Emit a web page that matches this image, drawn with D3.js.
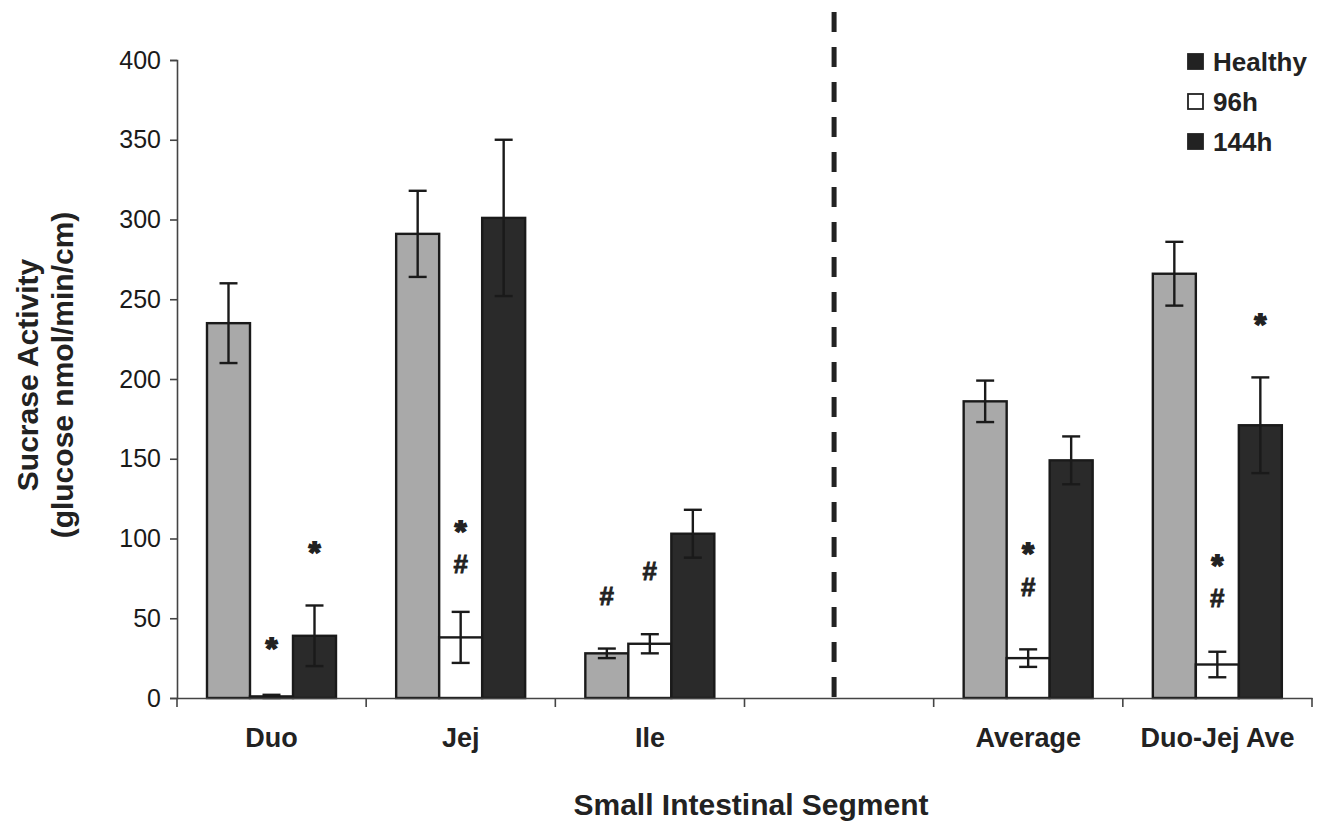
<!DOCTYPE html>
<html>
<head>
<meta charset="utf-8">
<script src="https://cdn.jsdelivr.net/npm/d3@7"></script>
<style>
  body { margin: 0; background: #fff; }
  svg text { font-family: "Liberation Sans", Arial, sans-serif; fill: #222; }
</style>
</head>
<body>
<svg id="chart" width="1319" height="825"></svg>
<script>
// categories along the x axis (blank slot holds the dashed divider)
var categories = ["Duo", "Jej", "Ile", "", "Average", "Duo-Jej Ave"];
var seriesNames = ["Healthy", "96h", "144h"];

// mean sucrase activity per category
var healthy = [235, 291, 28, null, 186, 266];
var h96     = [1, 38, 34, null, 25, 21];
var h144    = [39, 301, 103, null, 149, 171];

// error (SEM) per category
var healthyErr = [25, 27, 3, null, 13, 20];
var h96Err     = [1, 16, 6, null, 5.5, 8];
var h144Err    = [19, 49, 15, null, 15, 30];

var yTicks = [0, 50, 100, 150, 200, 250, 300, 350, 400];

// significance marks: category, series, symbol, value where it sits
var marks = [
  {cat: "Duo", s: "96h", sym: "*", v: 37},
  {cat: "Duo", s: "144h", sym: "*", v: 97},
  {cat: "Jej", s: "96h", sym: "*", v: 110},
  {cat: "Jej", s: "96h", sym: "#", v: 84},
  {cat: "Ile", s: "Healthy", sym: "#", v: 64},
  {cat: "Ile", s: "96h", sym: "#", v: 80},
  {cat: "Average", s: "96h", sym: "*", v: 96},
  {cat: "Average", s: "96h", sym: "#", v: 70},
  {cat: "Duo-Jej Ave", s: "96h", sym: "*", v: 89},
  {cat: "Duo-Jej Ave", s: "96h", sym: "#", v: 63},
  {cat: "Duo-Jej Ave", s: "144h", sym: "*", v: 240}
];

var fills = {"Healthy": "#a9a9a9", "96h": "#ffffff", "144h": "#2a2a2a"};
var legendFills = {"Healthy": "#222", "96h": "#fff", "144h": "#222"};

var svg = d3.select("#chart");
var xLeft = 177, xRight = 1312, yTop = 60, yBottom = 698;

var xScale = d3.scaleBand().domain(categories).range([xLeft, xRight]).padding(0);
var xInner = d3.scaleBand().domain(seriesNames).range([30, 159]).padding(0);
var yScale = d3.scaleLinear().domain([0, 400]).range([yBottom, yTop]);

// build rows from the arrays
var rows = [];
var vals = {"Healthy": healthy, "96h": h96, "144h": h144};
var errs = {"Healthy": healthyErr, "96h": h96Err, "144h": h144Err};
categories.forEach(function(c, i) {
  seriesNames.forEach(function(s) {
    if (vals[s][i] != null) rows.push({cat: c, s: s, v: vals[s][i], e: errs[s][i]});
  });
});

// dashed divider in the blank category
var divX = xScale("") + xScale.bandwidth() / 2 - 5;
svg.append("line")
  .attr("x1", divX).attr("x2", divX)
  .attr("y1", 12).attr("y2", yBottom)
  .attr("stroke", "#222").attr("stroke-width", 5)
  .attr("stroke-dasharray", "20,15");

// bars
svg.append("g").selectAll("rect")
  .data(rows).enter()
  .append("rect")
  .attr("x", function(d) { return xScale(d.cat) + xInner(d.s); })
  .attr("y", function(d) { return yScale(d.v); })
  .attr("width", xInner.bandwidth())
  .attr("height", function(d) { return yScale(0) - yScale(d.v); })
  .attr("fill", function(d) { return fills[d.s]; })
  .attr("stroke", "#1a1a1a").attr("stroke-width", 2.4);

// error bars
var eg = svg.append("g").attr("stroke", "#1a1a1a").attr("stroke-width", 2.4);
rows.forEach(function(d) {
  var cx = xScale(d.cat) + xInner(d.s) + xInner.bandwidth() / 2;
  var y1 = yScale(d.v + d.e), y2 = yScale(Math.max(0, d.v - d.e));
  eg.append("line").attr("x1", cx).attr("x2", cx).attr("y1", y1).attr("y2", y2);
  eg.append("line").attr("x1", cx - 9).attr("x2", cx + 9).attr("y1", y1).attr("y2", y1);
  eg.append("line").attr("x1", cx - 9).attr("x2", cx + 9).attr("y1", y2).attr("y2", y2);
});

// significance symbols
svg.append("g").selectAll("text")
  .data(marks).enter()
  .append("text")
  .attr("x", function(d) { return xScale(d.cat) + xInner(d.s) + xInner.bandwidth() / 2; })
  .attr("y", function(d) { return yScale(d.v); })
  .attr("dy", function(d) { return d.sym == "*" ? "0.62em" : "0.36em"; })
  .attr("text-anchor", "middle")
  .style("font-size", function(d) { return d.sym == "*" ? "30px" : "26px"; })
  .style("font-weight", "bold")
  .style("stroke", "#222")
  .style("stroke-width", function(d) { return d.sym == "*" ? 1.8 : 0.8; })
  .text(function(d) { return d.sym; });

// y axis
var yAxis = svg.append("g")
  .attr("transform", "translate(" + xLeft + ",0)")
  .call(d3.axisLeft(yScale).tickValues(yTicks).tickSize(7).tickPadding(9));
yAxis.select(".domain").attr("stroke", "#444").attr("stroke-width", 1.6);
yAxis.selectAll(".tick line").attr("stroke", "#444").attr("stroke-width", 1.6);
yAxis.selectAll("text").style("font-size", "25px").style("fill", "#1a1a1a");

// x axis
var xAxis = svg.append("g")
  .attr("transform", "translate(0," + yBottom + ")")
  .call(d3.axisBottom(xScale).tickSize(0).tickPadding(30));
xAxis.select(".domain").attr("stroke", "#444").attr("stroke-width", 1.6);
xAxis.selectAll("text").style("font-size", "27px").style("font-weight", "bold").style("fill", "#222");
xAxis.selectAll(".tick").filter(function(d) { return d == ""; }).remove();
// boundary ticks between categories
var bounds = categories.map(function(c) { return xScale(c); }).concat([xRight]);
svg.append("g").selectAll("line")
  .data(bounds).enter()
  .append("line")
  .attr("x1", function(d) { return d; }).attr("x2", function(d) { return d; })
  .attr("y1", yBottom).attr("y2", yBottom + 9)
  .attr("stroke", "#444").attr("stroke-width", 1.6);

// axis titles
svg.append("text")
  .attr("x", 751).attr("y", 815)
  .attr("text-anchor", "middle")
  .style("font-size", "30px").style("font-weight", "bold")
  .text("Small Intestinal Segment");

var yt = svg.append("text")
  .attr("transform", "translate(38,375) rotate(-90)")
  .attr("text-anchor", "middle")
  .style("font-size", "30px").style("font-weight", "bold");
yt.append("tspan").attr("x", 0).attr("y", 0).text("Sucrase Activity");
yt.append("tspan").attr("x", 0).attr("y", 35).text("(glucose nmol/min/cm)");

// legend
var lg = svg.append("g").selectAll("g")
  .data(seriesNames).enter()
  .append("g")
  .attr("transform", function(d, i) { return "translate(1188," + (62 + i * 40) + ")"; });
lg.append("rect")
  .attr("x", 0).attr("y", -8).attr("width", 15).attr("height", 15)
  .attr("fill", function(d) { return legendFills[d]; })
  .attr("stroke", "#222").attr("stroke-width", 1.8);
lg.append("text")
  .attr("x", 25).attr("y", 0).attr("dy", "0.36em")
  .style("font-size", "26px").style("font-weight", "bold")
  .text(function(d) { return d; });
</script>
</body>
</html>
